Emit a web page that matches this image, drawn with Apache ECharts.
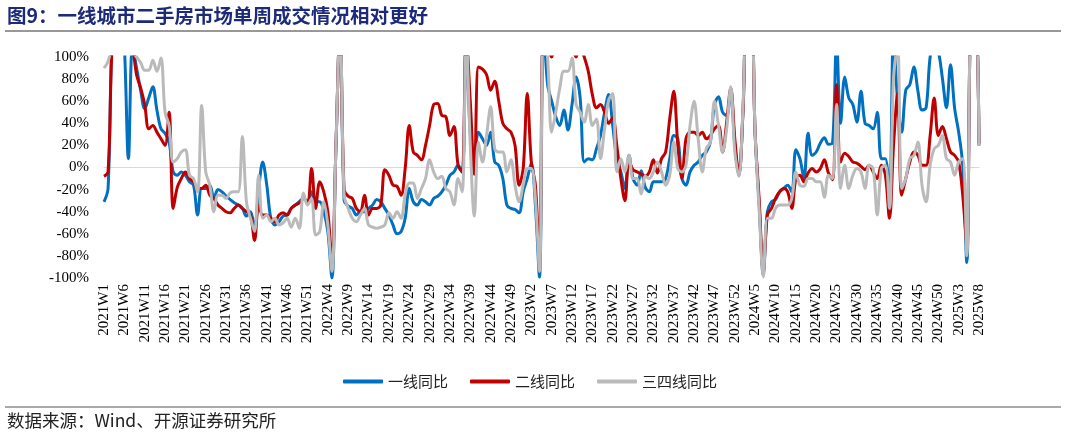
<!DOCTYPE html>
<html><head><meta charset="utf-8">
<script src="https://cdn.jsdelivr.net/npm/echarts@6/dist/echarts.min.js"></script>
<style>html,body{margin:0;padding:0;background:#fff;}#c{width:1068px;height:436px;}</style>
</head><body><div id="c"></div>
<script>
var years = [2021, 2022, 2023, 2024, 2025];
var weeksPerYear = [52, 52, 52, 52, 8];
var categories = [];
for (var y = 0; y < years.length; y++) { for (var w = 1; w <= weeksPerYear[y]; w++) categories.push(years[y] + 'W' + w); }

var seriesNames = ['一线同比', '二线同比', '三四线同比'];
var yTicks = [-100, -80, -60, -40, -20, 0, 20, 40, 60, 80, 100];

var tier1 = [-31,-19,120,140,150,110,8,110,90,70,53,63,73,52,35,31,23,-4,-7,-4,
-7,-13,-16,-43,-19,-19,-16,-28,-20,-22,-26,-29,-32,-34,-37,-44,-40,-55,-20,5,
-16,-46,-52,-49,-44,-43,-37,-34,-31,-28,-31,-22,-31,-31,-40,-58,-100,20,130,-30,
-35,-37,-43,-40,-40,-37,-34,-29,-31,-37,-43,-52,-60,-58,-46,-19,-31,-34,-29,-31,
-34,-28,-26,-22,-16,-7,-4,2,-4,120,30,10,32,26,20,32,5,2,-10,-34,
-37,-38,-41,-22,-10,4,-34,-99,130,75,60,46,38,52,34,57,82,63,5,8,
7,17,29,50,66,38,8,-4,-19,11,-10,-16,-3,-18,-22,-13,-13,-13,-10,8,
29,26,-10,-16,-4,2,5,11,14,23,57,64,50,47,69,20,-7,50,140,140,
30,-35,-97,-40,-31,-29,-22,-19,-16,-22,16,8,-10,31,11,14,22,27,21,22,
115,40,82,63,57,41,69,40,38,35,50,8,8,-31,120,60,32,70,75,91,
69,52,54,100,110,105,81,54,93,54,32,2,-86,150,160,20];

var tier2 = [-8,-4,110,130,150,140,120,110,84,72,57,35,38,32,26,20,50,-37,-18,-10,
-4,-10,-13,-19,-19,-16,-25,-28,-34,-37,-40,-41,-37,-34,-37,-40,-43,-66,-34,-43,
-43,-46,-49,-43,-41,-43,-37,-34,-32,-28,-31,-1,-37,-13,-22,-40,-85,20,130,-20,
-26,-28,-37,-40,-25,-43,-37,-37,-34,-2,-7,-16,-17,-25,-1,38,14,11,7,20,
38,57,58,47,46,29,37,2,-4,120,60,-6,91,89,84,70,78,60,40,35,
32,20,-16,-1,67,5,-16,-85,130,120,100,110,115,120,115,110,100,110,100,87,
66,54,57,50,40,45,20,-10,-30,5,-2,-4,-6,-8,-4,7,-5,8,14,44,
69,20,-10,26,32,32,29,32,26,29,35,38,14,41,72,26,-7,50,140,140,
30,-30,-94,-43,-37,-28,-22,-19,-22,-37,-10,-7,-13,-5,-1,-4,-1,7,-5,-11,
75,5,13,10,5,4,1,-2,2,-4,-10,2,-7,-46,20,67,-25,-10,5,14,
11,2,2,29,63,29,37,26,14,11,5,-25,-70,150,160,22];

var tier34 = [90,96,110,120,130,120,110,105,100,95,88,88,97,87,99,50,38,5,8,14,
16,-7,-10,-22,56,-4,-16,-40,-25,-25,-28,-23,-22,-22,28,-31,-46,-58,-7,-46,
-43,-49,-46,-52,-50,-46,-54,-46,-55,-23,-34,-28,-61,-58,-31,-52,-94,20,130,-25,
-37,-46,-49,-43,-37,-52,-54,-55,-54,-52,-41,-46,-40,-46,-25,-14,-14,-28,-19,-10,
7,-4,-10,-8,-19,-22,-34,-10,-22,120,20,-44,23,5,29,55,17,14,14,-4,
7,-16,-31,-16,-1,-1,-28,-94,130,99,32,50,72,87,87,99,57,50,41,57,
38,44,8,35,61,67,-4,8,-4,11,-10,-10,-24,-8,-10,-4,5,-4,-16,-7,
23,-1,-4,2,38,60,26,-4,17,23,60,38,14,35,73,14,-8,54,140,140,
30,-40,-99,-46,-46,-37,-34,-34,-34,-28,-4,-16,-17,-10,-10,-13,-13,-27,-7,-10,
57,-19,2,-19,-7,-1,-4,-19,2,-1,-43,-1,2,-37,81,110,-19,-10,8,11,
23,-16,-31,2,17,20,29,8,5,-7,5,8,-80,150,160,20];

var colors = ['#0070C0', '#C00000', '#BABABA'];
var chart = echarts.init(document.getElementById('c'));
function mk(name, data, color, z) {
  return { name: name, type: 'line', data: data, smooth: 0.35, symbol: 'none', z: z,
    lineStyle: { color: color, width: 3 }, itemStyle: { color: color }, clip: true };
}
chart.setOption({
  animation: false,
  backgroundColor: '#fff',
  textStyle: { fontFamily: 'Liberation Serif' },
  grid: { left: 104, right: 89, top: 57, bottom: 158, containLabel: false },
  graphic: [
    { type: 'text', left: 7, top: 6, style: { text: '图9：一线城市二手房市场单周成交情况相对更好', fill: '#1c2a7a',
      font: 'bold 19.5px "Noto Sans CJK SC"' } },
    { type: 'line', shape: { x1: 5, y1: 31, x2: 1061, y2: 31 }, style: { stroke: '#333', lineWidth: 1 } },
    { type: 'line', shape: { x1: 5, y1: 407, x2: 1061, y2: 407 }, style: { stroke: '#555', lineWidth: 1 } },
    { type: 'text', left: 7, top: 412, style: { text: '数据来源：Wind、开源证券研究所', fill: '#222',
      font: '17.5px "Noto Sans CJK SC"' } }
  ],
  legend: { top: 369, left: 338, itemWidth: 40, itemHeight: 4, itemGap: 22, icon: 'roundRect',
    textStyle: { fontFamily: 'Noto Sans CJK SC', fontSize: 15, color: '#222' },
    data: seriesNames },
  xAxis: { type: 'category', data: categories, boundaryGap: false,
    axisLine: { lineStyle: { color: '#D9D9D9', width: 1 } }, axisTick: { show: false },
    axisLabel: { interval: 4, rotate: 90, fontFamily: 'Liberation Serif', fontSize: 15, color: '#000', margin: 6 } },
  yAxis: { type: 'value', min: yTicks[0], max: yTicks[yTicks.length - 1], interval: 20,
    axisLine: { show: false }, axisTick: { show: false }, splitLine: { show: false },
    axisLabel: { formatter: '{value}%', fontFamily: 'Liberation Serif', fontSize: 15, color: '#000', margin: 15 } },
  series: [ mk(seriesNames[0], tier1, colors[0], 1), mk(seriesNames[1], tier2, colors[1], 2), mk(seriesNames[2], tier34, colors[2], 3) ]
});
</script></body></html>
